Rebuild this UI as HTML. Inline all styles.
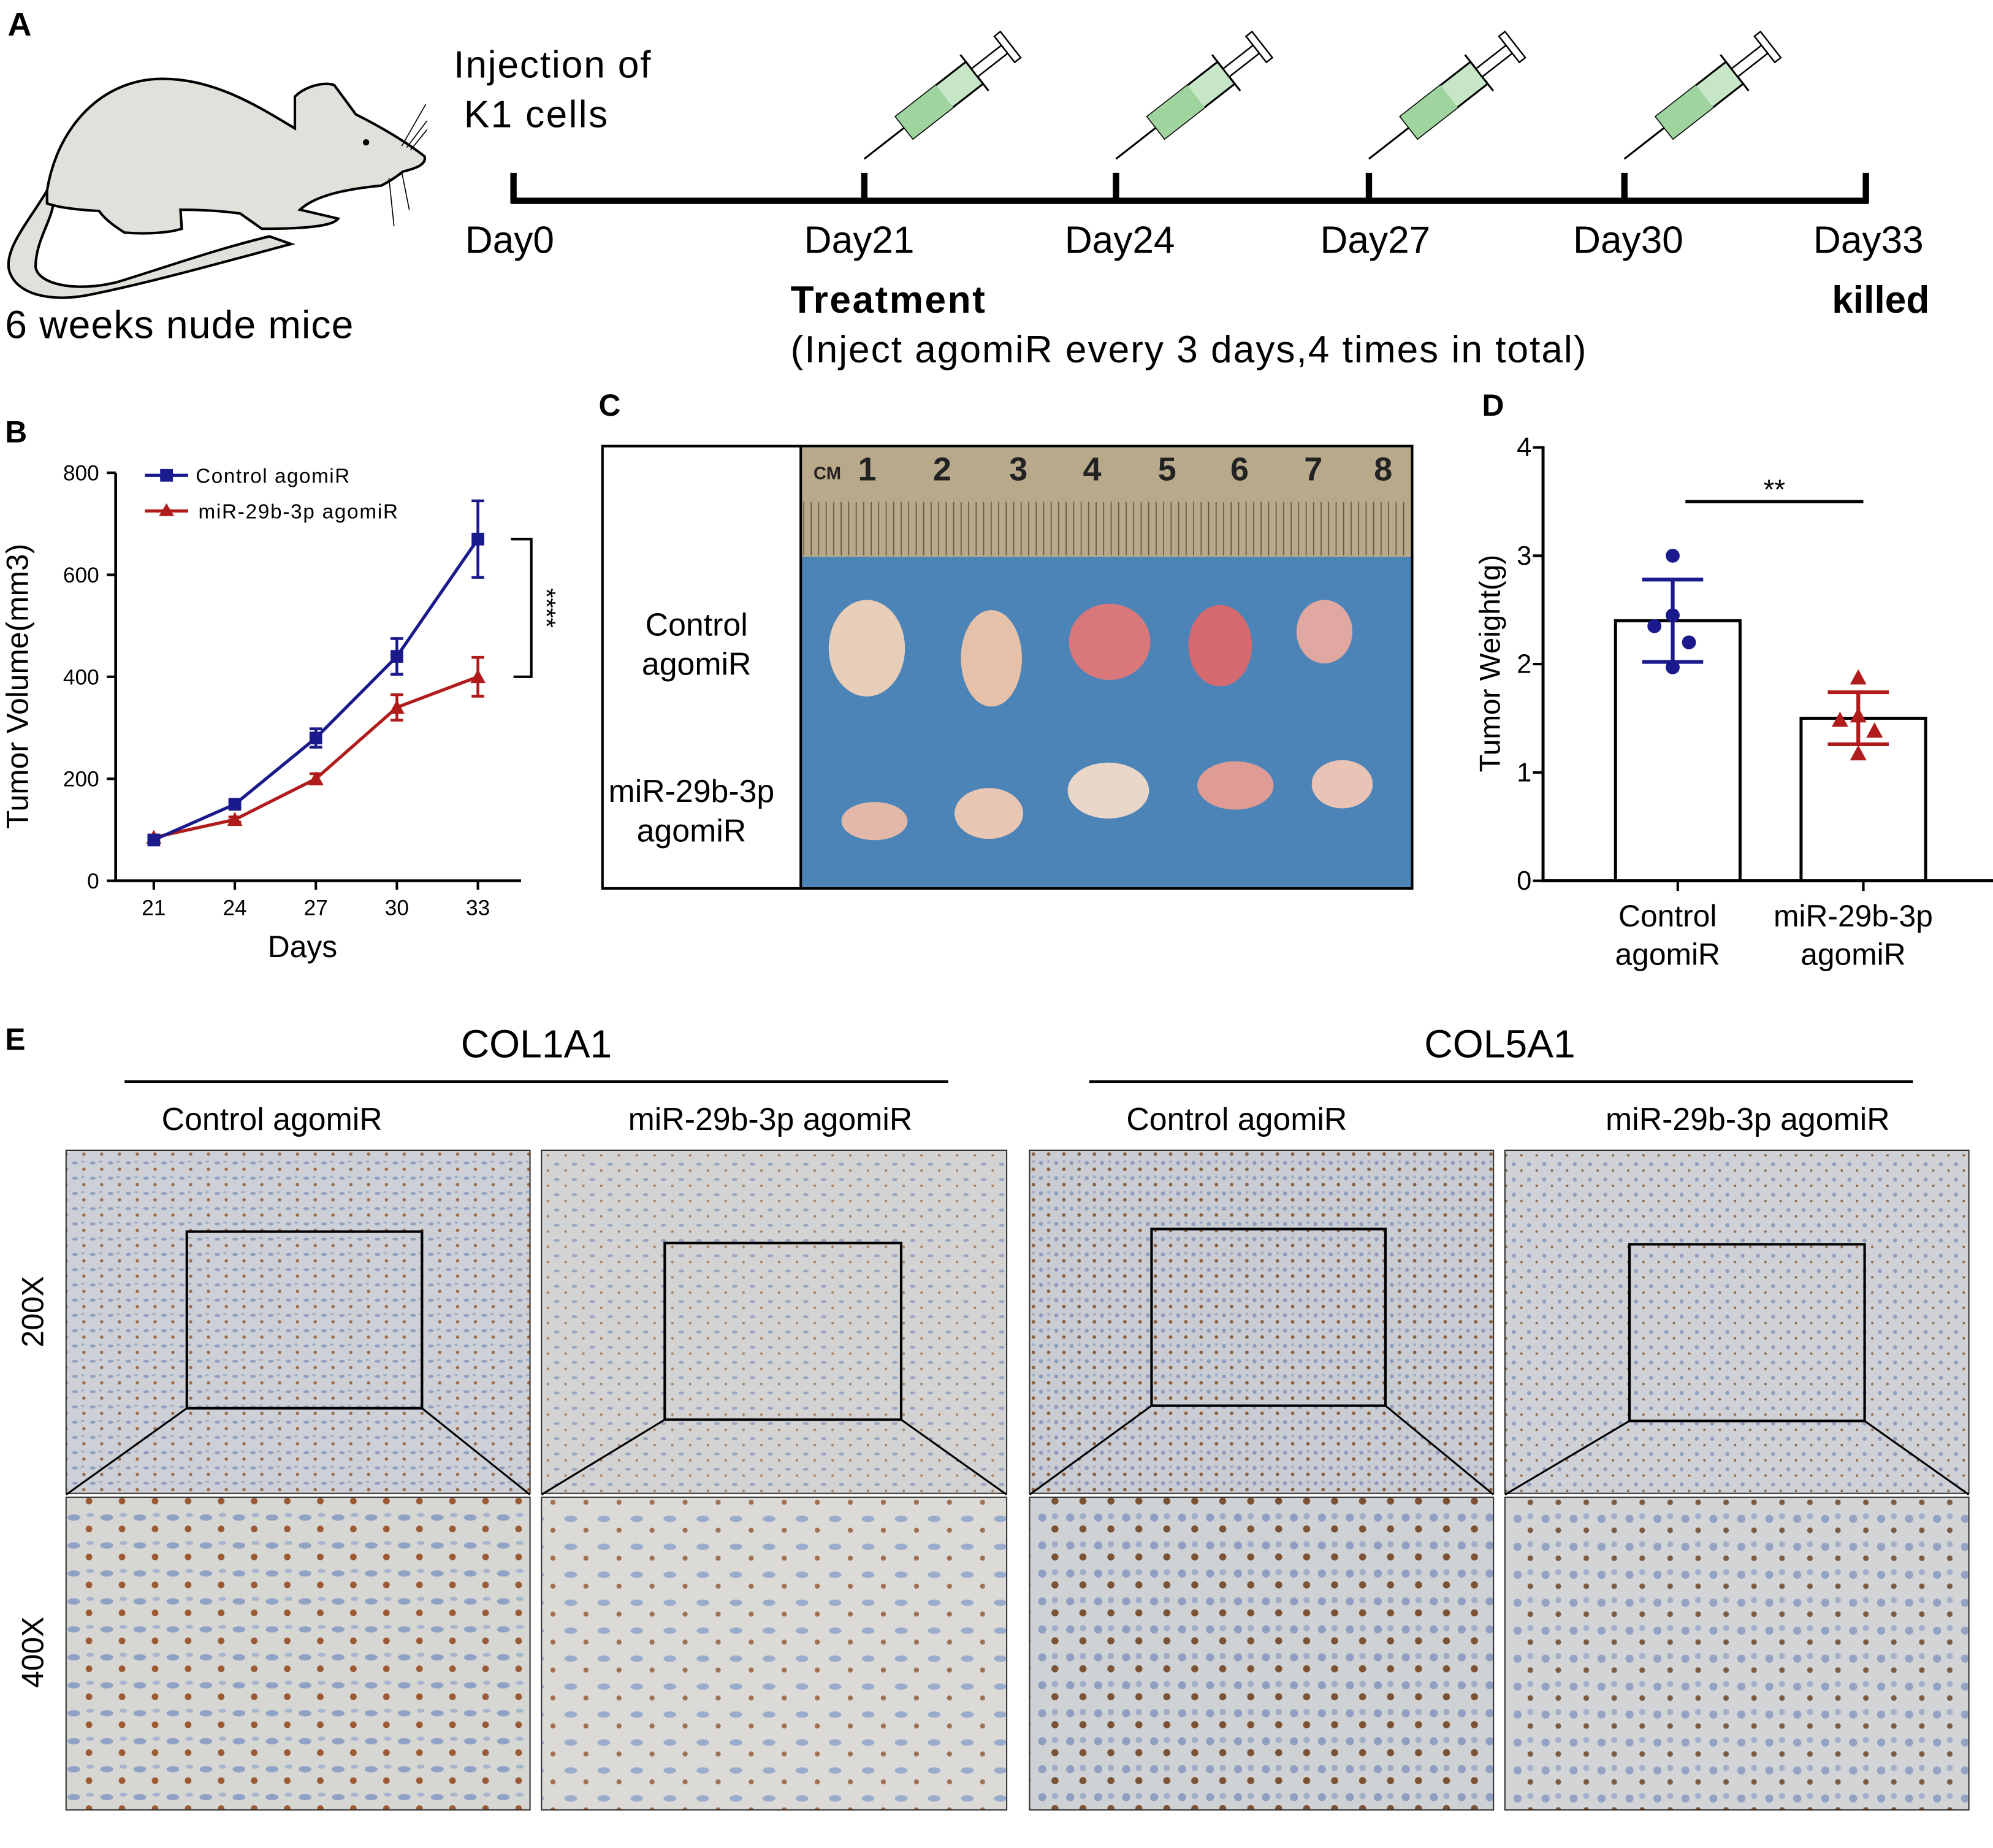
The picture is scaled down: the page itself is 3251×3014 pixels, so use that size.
<!DOCTYPE html>
<html><head><meta charset="utf-8"><style>
html,body{margin:0;padding:0;background:#fff}
svg{display:block}
text{font-family:"Liberation Sans",sans-serif}
</style></head><body>
<svg id="fig" xmlns="http://www.w3.org/2000/svg" width="3251" height="3014" viewBox="0 0 1568 1454" preserveAspectRatio="none">
<defs>
<pattern id="ihcA" width="14" height="12" patternUnits="userSpaceOnUse"><rect width="14" height="12" fill="#cdd0d6"/><ellipse cx="3" cy="3" rx="2.2" ry="1.2" fill="#8f9fbf"/><circle cx="10" cy="8" r="1.3" fill="#9a6a48"/><ellipse cx="9" cy="2" rx="1.5" ry="0.9" fill="#a3afc7"/></pattern>
<pattern id="ihcB" width="14" height="12" patternUnits="userSpaceOnUse"><rect width="14" height="12" fill="#d3d3d4"/><ellipse cx="4" cy="4" rx="2.2" ry="1.2" fill="#99a6c2"/><circle cx="11" cy="9" r="1" fill="#a68060"/></pattern>
<pattern id="ihcC" width="12" height="12" patternUnits="userSpaceOnUse"><rect width="12" height="12" fill="#c9ccd2"/><circle cx="3" cy="3" r="1.6" fill="#8d9cbd"/><circle cx="9" cy="8" r="1.4" fill="#8a5f3e"/><circle cx="9" cy="2" r="1.2" fill="#a2adc5"/></pattern>
<pattern id="ihcD" width="12" height="12" patternUnits="userSpaceOnUse"><rect width="12" height="12" fill="#cfd1d6"/><circle cx="3" cy="4" r="1.6" fill="#909fbf"/><circle cx="9" cy="9" r="1" fill="#8f6a4c"/></pattern>
<pattern id="ihcA4" width="26" height="22" patternUnits="userSpaceOnUse"><rect width="26" height="22" fill="#d6d6d2"/><ellipse cx="6" cy="6" rx="5" ry="2.5" fill="#8fa2c6"/><circle cx="18" cy="15" r="2.6" fill="#9b5a33"/><ellipse cx="19" cy="4" rx="3" ry="1.6" fill="#a7b4cf"/></pattern>
<pattern id="ihcB4" width="26" height="22" patternUnits="userSpaceOnUse"><rect width="26" height="22" fill="#dcdad6"/><ellipse cx="7" cy="7" rx="5" ry="2.5" fill="#9aaccc"/><circle cx="19" cy="16" r="2" fill="#a07050"/></pattern>
<pattern id="ihcC4" width="22" height="22" patternUnits="userSpaceOnUse"><rect width="22" height="22" fill="#cfd2d4"/><circle cx="6" cy="6" r="3.2" fill="#8e9fc2"/><circle cx="16" cy="15" r="2.8" fill="#7c5234"/><circle cx="16" cy="5" r="2.5" fill="#9fadc9"/></pattern>
<pattern id="ihcD4" width="22" height="22" patternUnits="userSpaceOnUse"><rect width="22" height="22" fill="#d2d4d6"/><circle cx="6" cy="7" r="3.2" fill="#93a3c4"/><circle cx="16" cy="16" r="2.2" fill="#7e5a3e"/><circle cx="16" cy="5" r="2.4" fill="#a4b0ca"/></pattern>
<pattern id="ruler" width="5.9" height="20" patternUnits="userSpaceOnUse"><line x1="1" y1="0" x2="1" y2="20" stroke="#3a3020" stroke-width="0.8"/></pattern>
</defs>

<!-- Panel A -->
<text x="6" y="28" font-size="26" font-weight="bold">A</text>
<g>
<path d="M37,150 C22,175 4,195 7,212 C12,232 40,238 70,232 C120,222 180,205 229,192 L212,186 C170,196 125,212 92,222 C60,230 30,224 28,210 C28,190 40,175 42,160 Z" fill="#e2e0da" stroke="#000" stroke-width="2"/>
<path d="M37,150 C45,100 80,62 128,62 C170,62 205,85 232,101 L232,76 C240,68 255,64 263,67 L280,90 C300,100 320,112 334,123 C336,130 325,133 317,135 C312,139 306,143 300,146 C280,148 250,152 236,165 L266,172 C262,178 240,180 206,180 L189,168 C175,166 160,165 142,165 L143,180 C130,184 110,184 98,183 C90,178 82,172 78,166 C60,165 45,163 37,160 Z" fill="#e2e0da" stroke="#000" stroke-width="2"/>
<circle cx="288" cy="112" r="2.5" fill="#000"/>
<path d="M316,115 L335,82 M320,116 L336,95 M323,118 L336,102 M306,140 L310,178 M316,135 L322,165" stroke="#000" stroke-width="0.8"/>
</g>
<text x="4" y="266" font-size="31" textLength="274">6 weeks nude mice</text>
<text x="357" y="61" font-size="30" textLength="155">Injection of</text>
<text x="365" y="100" font-size="30" textLength="113">K1 cells</text>
<g stroke="#000" stroke-width="5">
<line x1="402" y1="158" x2="1470" y2="158"/>
<line x1="404" y1="136" x2="404" y2="160"/><line x1="680" y1="136" x2="680" y2="160"/><line x1="878" y1="136" x2="878" y2="160"/><line x1="1077" y1="136" x2="1077" y2="160"/><line x1="1278" y1="136" x2="1278" y2="160"/><line x1="1468" y1="136" x2="1468" y2="160"/>
</g>
<g id="syringes"></g>
<g font-size="30" text-anchor="middle">
<text x="401" y="199">Day0</text><text x="676" y="199">Day21</text><text x="881" y="199">Day24</text><text x="1082" y="199">Day27</text><text x="1281" y="199">Day30</text><text x="1470" y="199">Day33</text>
</g>
<text x="622" y="246" font-size="30" font-weight="bold" textLength="153">Treatment</text>
<text x="622" y="285" font-size="30" textLength="626">(Inject agomiR every 3 days,4 times in total)</text>
<text x="1518" y="246" font-size="30" font-weight="bold" text-anchor="end">killed</text>

<!-- Panel B -->
<text x="4" y="348" font-size="24" font-weight="bold">B</text>
<g id="chartB"></g>

<!-- Panel C -->
<text x="471" y="327" font-size="24" font-weight="bold">C</text>
<g>
<rect x="474" y="351" width="637" height="348" fill="#fff" stroke="#000" stroke-width="2"/>
<rect x="630" y="352" width="480" height="86" fill="#b7a98a"/>
<rect x="632" y="395" width="476" height="42" fill="url(#ruler)" opacity="0.7"/>
<rect x="630" y="438" width="480" height="260" fill="#4d84b8"/>
<line x1="630" y1="351" x2="630" y2="699" stroke="#000" stroke-width="2"/>
<g font-family="Liberation Serif" font-size="26" font-weight="bold" fill="#222">
<text x="640" y="377" font-size="14">CM</text><text x="675" y="378">1</text><text x="734" y="378">2</text><text x="794" y="378">3</text><text x="852" y="378">4</text><text x="911" y="378">5</text><text x="968" y="378">6</text><text x="1026" y="378">7</text><text x="1081" y="378">8</text>
</g>
<g>
<ellipse cx="682" cy="510" rx="30" ry="38" fill="#e8cdb8"/><ellipse cx="780" cy="518" rx="24" ry="38" fill="#e6c1aa"/><ellipse cx="873" cy="505" rx="32" ry="30" fill="#d8787a"/><ellipse cx="960" cy="508" rx="25" ry="32" fill="#d46a70"/><ellipse cx="1042" cy="497" rx="22" ry="25" fill="#e0a8a0"/>
<ellipse cx="688" cy="646" rx="26" ry="15" fill="#e4b8a8"/><ellipse cx="778" cy="640" rx="27" ry="20" fill="#e8c6b4"/><ellipse cx="872" cy="622" rx="32" ry="22" fill="#ead6c8"/><ellipse cx="972" cy="618" rx="30" ry="19" fill="#df9c94"/><ellipse cx="1056" cy="617" rx="24" ry="19" fill="#e9c4b6"/>
</g>
</g>
<g font-size="25" text-anchor="middle">
<text x="548" y="500">Control</text><text x="548" y="531">agomiR</text>
<text x="544" y="631">miR-29b-3p</text><text x="544" y="662">agomiR</text>
</g>

<!-- Panel D -->
<text x="1166" y="327" font-size="24" font-weight="bold">D</text>
<g id="chartD"></g>

<!-- Panel E -->
<text x="4" y="826" font-size="24" font-weight="bold">E</text>
<g font-size="31" text-anchor="middle">
<text x="422" y="832">COL1A1</text><text x="1180" y="832">COL5A1</text>
</g>
<line x1="98" y1="851" x2="746" y2="851" stroke="#000" stroke-width="2"/>
<line x1="857" y1="851" x2="1505" y2="851" stroke="#000" stroke-width="2"/>
<g font-size="25" text-anchor="middle">
<text x="214" y="889">Control agomiR</text><text x="606" y="889">miR-29b-3p agomiR</text>
<text x="973" y="889">Control agomiR</text><text x="1375" y="889">miR-29b-3p agomiR</text>
</g>
<g font-size="24" text-anchor="middle">
<text transform="translate(34,1032) rotate(-90)">200X</text>
<text transform="translate(34,1300) rotate(-90)">400X</text>
</g>
<g id="ihc"></g>
</svg>
<script>
const NS='http://www.w3.org/2000/svg';
function mk(parent,tag,attrs,txt){const e=document.createElementNS(NS,tag);for(const k in attrs)e.setAttribute(k,attrs[k]);if(txt!==undefined)e.textContent=txt;parent.appendChild(e);return e;}

// syringes
const syr=document.getElementById('syringes');
[680,878,1077,1278].forEach(x=>{
  const g=mk(syr,'g',{transform:`translate(${x},125) rotate(-38)`});
  
  
  mk(g,'line',{x1:0,y1:0,x2:40,y2:0,stroke:'#000','stroke-width':1.5});
  mk(g,'rect',{x:40,y:-11,width:70,height:22,fill:'#c7e6c7',stroke:'#000','stroke-width':1.5});
  mk(g,'rect',{x:40,y:-11,width:40,height:22,fill:'#9fd49f',stroke:'none'});
  mk(g,'line',{x1:110,y1:-18,x2:110,y2:18,stroke:'#000','stroke-width':1.5});
  mk(g,'rect',{x:110,y:-4,width:30,height:8,fill:'#fff',stroke:'#000','stroke-width':1.2});
  mk(g,'rect',{x:140,y:-13,width:6,height:26,fill:'#fff',stroke:'#000','stroke-width':1.2});
});

// ===== Chart B data =====
const daysB=[21,24,27,30,33];
const ctrlVol=[80,150,280,440,670];
const ctrlErr=[5,6,18,35,75];
const mirVol=[85,120,200,340,400];
const mirErr=[4,5,10,25,38];
const yTicksB=[0,200,400,600,800];

(function(){
  const g=document.getElementById('chartB');
  const X=d=>121+(d-21)*(376-121)/12;
  const Y=v=>693-v*(693-372)/800;
  mk(g,'line',{x1:91,y1:372,x2:91,y2:694,stroke:'#000','stroke-width':2.2});
  mk(g,'line',{x1:90,y1:693,x2:410,y2:693,stroke:'#000','stroke-width':2.2});
  yTicksB.forEach(t=>{
    mk(g,'line',{x1:84,y1:Y(t),x2:91,y2:Y(t),stroke:'#000','stroke-width':2});
    const tx=mk(g,'text',{x:78,y:Y(t)+6,'font-size':17,'text-anchor':'end'},t);
    
    
  });
  daysB.forEach(d=>{
    mk(g,'line',{x1:X(d),y1:693,x2:X(d),y2:700,stroke:'#000','stroke-width':2});
    const tx=mk(g,'text',{x:X(d),y:720,'font-size':17,'text-anchor':'middle'},d);
    
    
  });
  const yt=mk(g,'text',{transform:'translate(22,540) rotate(-90)','font-size':24,'text-anchor':'middle'},'Tumor Volume(mm3)');
  
  
  const xt=mk(g,'text',{x:238,y:753,'font-size':24,'text-anchor':'middle'},'Days');
  
  
  function series(vals,errs,col,marker,name){
    const sg=mk(g,'g',{});
    
    
    mk(sg,'polyline',{points:vals.map((v,i)=>X(daysB[i])+','+Y(v)).join(' '),fill:'none',stroke:col,'stroke-width':2.5});
    vals.forEach((v,i)=>{
      const x=X(daysB[i]);
      const e=errs[i];
      mk(sg,'path',{d:`M${x},${Y(v+e)}V${Y(v-e)}M${x-5},${Y(v+e)}h10M${x-5},${Y(v-e)}h10`,stroke:col,'stroke-width':2.2,fill:'none'});
      if(marker==='sq') mk(sg,'rect',{x:x-5,y:Y(v)-5,width:10,height:10,fill:col});
      else mk(sg,'path',{d:`M${x},${Y(v)-6}L${x+6},${Y(v)+5}L${x-6},${Y(v)+5}Z`,fill:col});
    });
  }
  series(mirVol,mirErr,'#b01c1c','tri','series-mir-29b-3p');
  series(ctrlVol,ctrlErr,'#1a1a8c','sq','series-control');
  const br=mk(g,'path',{d:`M402,${Y(ctrlVol[4])}H418V${Y(mirVol[4])}H404`,fill:'none',stroke:'#000','stroke-width':2});
  
  
  const st=mk(g,'text',{transform:`translate(423,${(Y(ctrlVol[4])+Y(mirVol[4]))/2}) rotate(90)`,'font-size':20,'text-anchor':'middle'},'****');
  
  
  const lg=mk(g,'g',{});
  
  
  mk(lg,'line',{x1:114,y1:374,x2:148,y2:374,stroke:'#1a1a8c','stroke-width':2.5});
  mk(lg,'rect',{x:126,y:369,width:10,height:10,fill:'#1a1a8c'});
  mk(lg,'text',{x:154,y:380,'font-size':16,textLength:121},'Control agomiR');
  mk(lg,'line',{x1:114,y1:402,x2:148,y2:402,stroke:'#b01c1c','stroke-width':2.5});
  mk(lg,'path',{d:'M131,396L137,406L125,406Z',fill:'#b01c1c'});
  mk(lg,'text',{x:156,y:408,'font-size':16,textLength:157},'miR-29b-3p agomiR');
})();

// ===== Chart D data =====
const groupsD=['Control agomiR','miR-29b-3p agomiR'];
const meanW=[2.4,1.5];
const sdW=[0.38,0.24];
const ctrlPts=[3.0,2.45,2.35,2.2,1.97];
const mirPts=[1.87,1.52,1.48,1.38,1.17];
const ptOffsets=[0,0,-9,8,0];
const yTicksD=[0,1,2,3,4];

(function(){
  const g=document.getElementById('chartD');
  const Y=v=>693-v*(693-352)/4;
  const cx=[1320,1466];
  const AX=1214;
  mk(g,'line',{x1:AX,y1:351,x2:AX,y2:694,stroke:'#000','stroke-width':2.4});
  mk(g,'line',{x1:AX-1,y1:693,x2:1568,y2:693,stroke:'#000','stroke-width':2.4});
  yTicksD.forEach(t=>{
    mk(g,'line',{x1:AX-8,y1:Y(t),x2:AX,y2:Y(t),stroke:'#000','stroke-width':2});
    const tx=mk(g,'text',{x:AX-9,y:Y(t)+7,'font-size':21,'text-anchor':'end'},t);
    
    
  });
  const yt=mk(g,'text',{transform:'translate(1180,522) rotate(-90)','font-size':23,'text-anchor':'middle'},'Tumor Weight(g)');
  
  
  const labs=[['Control','agomiR'],['miR-29b-3p','agomiR']];
  const cols=['#1a1a8c','#b01c1c'];
  const pts=[ctrlPts,mirPts];
  cx.forEach((x,i)=>{
    mk(g,'line',{x1:x,y1:693,x2:x,y2:701,stroke:'#000','stroke-width':2});
    const b=mk(g,'rect',{x:x-49,y:Y(meanW[i]),width:98,height:Y(0)-Y(meanW[i]),fill:'#fff',stroke:'#000','stroke-width':2.4});
    
    
    const t1=mk(g,'text',{x:x-8,y:729,'font-size':24,'text-anchor':'middle'},labs[i][0]);
    
    
    const t2=mk(g,'text',{x:x-8,y:759,'font-size':24,'text-anchor':'middle'},labs[i][1]);
    
    
    const pg=mk(g,'g',{});
    
    
    pts[i].forEach((v,j)=>{
      const px=x-4+ptOffsets[j]*1.6;
      if(i===0) mk(pg,'circle',{cx:px,cy:Y(v),r:5.5,fill:cols[0]});
      else mk(pg,'path',{d:`M${px},${Y(v)-7}L${px+6.5},${Y(v)+5}L${px-6.5},${Y(v)+5}Z`,fill:cols[1]});
    });
    const m=meanW[i],s=sdW[i],ex=x-4;
    mk(pg,'path',{d:`M${ex},${Y(m+s)}V${Y(m-s)}M${ex-24},${Y(m+s)}h48M${ex-24},${Y(m-s)}h48`,stroke:cols[i],'stroke-width':3,fill:'none'});
  });
  const sl=mk(g,'line',{x1:1326,y1:Y(3.5),x2:1466,y2:Y(3.5),stroke:'#000','stroke-width':2.5});
  
  
  const st=mk(g,'text',{x:1396,y:Y(3.5)-2,'font-size':22,'text-anchor':'middle'},'**');
  
  
})();

// IHC panels
(function(){
  const g=document.getElementById('ihc');
  const xs=[[52,417],[426,792],[810,1175],[1184,1549]];
  const pats=['A','B','C','D'];
  const boxes=[[147,969,332,1108],[523,978,709,1117],[906,967,1090,1106],[1282,979,1467,1118]];
  xs.forEach((c,i)=>{
    const w=c[1]-c[0];
    const r1=mk(g,'rect',{x:c[0],y:905,width:w,height:270,fill:`url(#ihc${pats[i]})`,stroke:'#333','stroke-width':1});
    
    
    const r2=mk(g,'rect',{x:c[0],y:1178,width:w,height:246,fill:`url(#ihc${pats[i]}4)`,stroke:'#333','stroke-width':1});
    
    
    const b=boxes[i];
    mk(g,'rect',{x:b[0],y:b[1],width:b[2]-b[0],height:b[3]-b[1],fill:'none',stroke:'#000','stroke-width':2});
    mk(g,'path',{d:`M${b[0]},${b[3]}L${c[0]},1176M${b[2]},${b[3]}L${c[1]},1176`,stroke:'#000','stroke-width':1.5,fill:'none'});
  });
})();
</script>
</body></html>
